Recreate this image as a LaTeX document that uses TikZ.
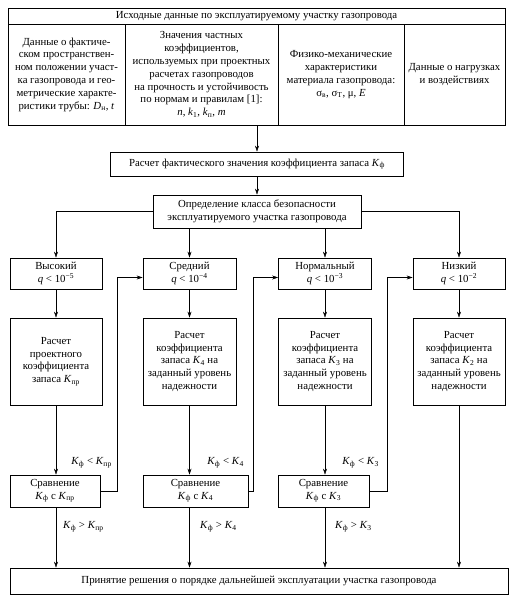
\documentclass[tikz,border=0pt]{standalone}
\usepackage{fontspec}
\setmainfont{Liberation Serif}
\usetikzlibrary{arrows.meta}
\newcommand{\Kf}{\textit{K}\textsubscript{ф}}
\newcommand{\Kk}[1]{\textit{K}\textsubscript{#1}}
\begin{document}
\begin{tikzpicture}[x=1pt,y=-1pt,
	box/.style={draw,line width=0.9pt,inner sep=1pt,align=center,font=\fontsize{10.8}{12.8}\selectfont},
	lbl/.style={inner sep=1pt,font=\fontsize{10.8}{12}\selectfont},
	>={Stealth[length=6pt,width=4pt]}]
	\useasboundingbox (0,0) rectangle (509,599);
	% source data table
	\node[box,minimum width=497pt,minimum height=16pt] (head) at (256.5,16) {Исходные данные по эксплуатируемому участку газопровода};
	\node[box,minimum width=117pt,minimum height=101pt] (col1) at (66.5,74.5) {Данные о фактиче-\\ском пространствен-\\ном положении участ-\\ка газопровода и гео-\\метрические характе-\\ристики трубы: \textit{D}\textsubscript{н}, \textit{t}};
	\node[box,minimum width=153pt,minimum height=101pt] (col2) at (201.5,74.5) {Значения частных\\коэффициентов,\\используемых при проектных\\расчетах газопроводов\\на прочность и устойчивость\\по нормам и правилам [1]:\\\textit{n}, \textit{k}\textsubscript{1}, \textit{k}\textsubscript{п}, \textit{m}};
	\node[box,minimum width=126pt,minimum height=101pt] (col3) at (341,74.5) {Физико-механические\\характеристики\\материала газопровода:\\σ\textsubscript{в}, σ\textsubscript{Т}, μ, \textit{E}};
	\node[box,minimum width=101pt,minimum height=101pt] (col4) at (454.5,74.5) {Данные о нагрузках\\и воздействиях};
	% main chain
	\node[box,minimum width=293pt,minimum height=24pt] (calcf) at (257,164) {Расчет фактического значения коэффициента запаса \Kf};
	\node[box,minimum width=208pt,minimum height=33pt] (cls) at (257,211.5) {Определение класса безопасности\\эксплуатируемого участка газопровода};
	% safety classes
	\node[box,minimum width=92pt,minimum height=31pt] (hi) at (56,273.5) {Высокий\\\textit{q} < 10\textsuperscript{−5}};
	\node[box,minimum width=93pt,minimum height=31pt] (mid) at (189.5,273.5) {Средний\\\textit{q} < 10\textsuperscript{−4}};
	\node[box,minimum width=93pt,minimum height=31pt] (nrm) at (325,273.5) {Нормальный\\\textit{q} < 10\textsuperscript{−3}};
	\node[box,minimum width=92pt,minimum height=31pt] (low) at (459,273.5) {Низкий\\\textit{q} < 10\textsuperscript{−2}};
	\node[box,minimum width=92pt,minimum height=87pt] (calchi) at (56,361.5) {Расчет\\проектного\\коэффициента\\запаса \Kk{пр}};
	\node[box,minimum width=93pt,minimum height=87pt] (calcmid) at (189.5,361.5) {Расчет\\коэффициента\\запаса \Kk{4} на\\заданный уровень\\надежности};
	\node[box,minimum width=93pt,minimum height=87pt] (calcnrm) at (325,361.5) {Расчет\\коэффициента\\запаса \Kk{3} на\\заданный уровень\\надежности};
	\node[box,minimum width=92pt,minimum height=87pt] (calclow) at (459,361.5) {Расчет\\коэффициента\\запаса \Kk{2} на\\заданный уровень\\надежности};
	\node[box,minimum width=90pt,minimum height=32pt] (cmphi) at (55,491) {Сравнение\\\Kf{} с \Kk{пр}};
	\node[box,minimum width=105pt,minimum height=32pt] (cmpmid) at (195.5,491) {Сравнение\\\Kf{} с \Kk{4}};
	\node[box,minimum width=91pt,minimum height=32pt] (cmpnrm) at (323.5,491) {Сравнение\\\Kf{} с \Kk{3}};
	\node[box,minimum width=498pt,minimum height=26pt] (final) at (259,581) {Принятие решения о порядке дальнейшей эксплуатации участка газопровода};
	% conditions
	\node[lbl,anchor=east] (lt1) at (113,463) {\Kf{} < \Kk{пр}};
	\node[lbl,anchor=west] (gt1) at (62,527) {\Kf{} > \Kk{пр}};
	\node[lbl,anchor=east] (lt2) at (245,463) {\Kf{} < \Kk{4}};
	\node[lbl,anchor=west] (gt2) at (199,527) {\Kf{} > \Kk{4}};
	\node[lbl,anchor=east] (lt3) at (380,463) {\Kf{} < \Kk{3}};
	\node[lbl,anchor=west] (gt3) at (334,527) {\Kf{} > \Kk{3}};
	\coordinate (fb1) at (117,491);
	\coordinate (fb2) at (253,491);
	\coordinate (fb3) at (387,491);
	% arrows
	\draw[->] (calcf.north |- col2.south) -- (calcf.north);
	\draw[->] (calcf) -- (cls);
	\draw[->] (cls.west) -| (hi);
	\draw[->] (cls.east) -| (low);
	\draw[->] (cls.south -| mid) -- (mid);
	\draw[->] (cls.south -| nrm) -- (nrm);
	\foreach \lv/\cc in {hi/calchi,mid/calcmid,nrm/calcnrm,low/calclow}
		\draw[->] (\lv) -- (\cc);
	\foreach \cc/\cm in {calchi/cmphi,calcmid/cmpmid,calcnrm/cmpnrm}
	{
		\draw[->] (\cc.south) -- (\cc.south |- \cm.north);
		\draw[->] (\cc.south |- \cm.south) -- (\cc.south |- final.north);
	}
	\draw[->] (calclow) -- (calclow |- final.north);
	\draw[->] (cmphi.east) -- (fb1) |- ([yshift=-4pt]mid.west);
	\draw[->] (cmpmid.east) -- (fb2) |- ([yshift=-4pt]nrm.west);
	\draw[->] (cmpnrm.east) -- (fb3) |- ([yshift=-4pt]low.west);
\end{tikzpicture}
\end{document}
